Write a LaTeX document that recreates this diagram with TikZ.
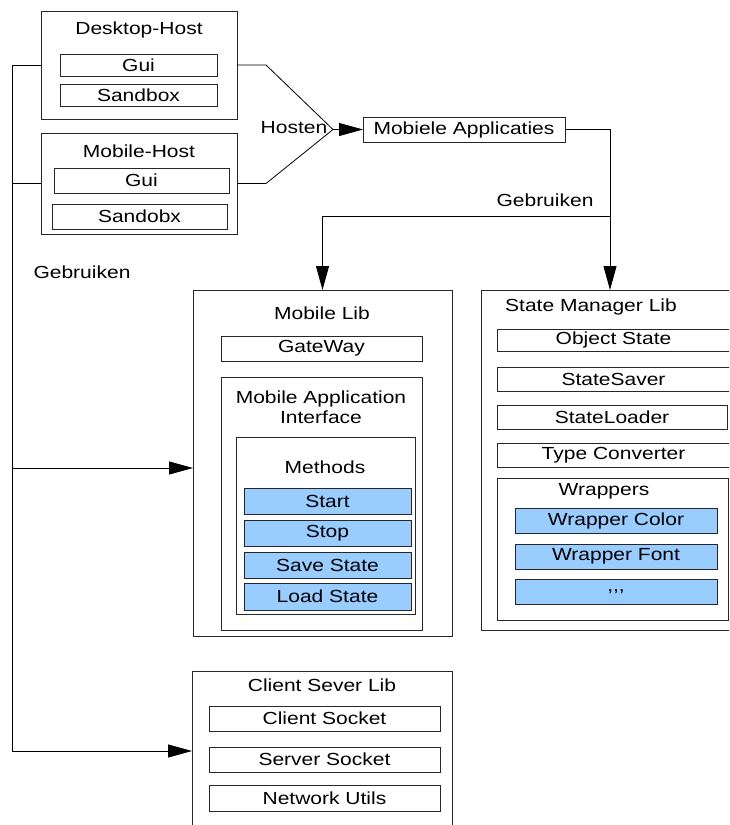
\documentclass[tikz,border=0pt]{standalone}
\usepackage{fontspec}
\setmainfont{Liberation Sans}[FakeStretch=1.2]
\usetikzlibrary{arrows.meta}
\definecolor{methodblue}{HTML}{99CCFF}
\tikzset{
  x=1pt, y=-1pt,
  blk/.style={draw=black!85, line width=0.8pt, fill=white, inner sep=0pt, outer sep=0pt,
    font=\fontsize{17.5}{19}\selectfont},
  hot/.style={blk, fill=methodblue},
  lbl/.style={inner sep=0pt, font=\fontsize{17.5}{20}\selectfont, align=center},
  wire/.style={draw=black, line width=0.8pt},
  arr/.style={wire, -{Triangle[length=24pt,width=13pt]}},
}
% box from (x1,y1) to (x2,y2), y measured downwards
\newcommand\rectnode[6][]{%
  \node[blk,#1,minimum width={(#5-#3)*1pt},minimum height={(#6-#4)*1pt}] (#2)
    at ({(#3+#5)/2},{(#4+#6)/2})}
\begin{document}
\begin{tikzpicture}
\useasboundingbox (0,0) rectangle (729,825);
\clip (0,0) rectangle (729,825);

% hosts
\rectnode{dh}{41}{11}{237}{119}{};
\node[lbl] (dhT) at (139,30) {Desktop-Host};
\rectnode{dhgui}{60}{54}{217}{76}{Gui};
\rectnode{dhsb}{60}{84}{217}{106}{Sandbox};

\rectnode{mh}{41}{133}{237}{234}{};
\node[lbl] (mhT) at (139,151) {Mobile-Host};
\rectnode{mhgui}{54}{168}{229}{193}{Gui};
\rectnode{mhsb}{52}{204}{227}{229}{Sandobx};

% applications
\rectnode{mapp}{363}{117}{565}{142}{Mobiele Applicaties};

% mobile lib
\rectnode{ml}{193}{290}{452}{636}{};
\node[lbl] (mlT) at (322,313) {Mobile Lib};
\rectnode{gw}{221}{336}{422}{361}{GateWay};
\rectnode{mai}{221}{377}{422}{630}{};
\node[lbl] (maiT) at (321,407) {Mobile Application\\Interface};
\rectnode{meth}{236}{437}{415}{614}{};
\node[lbl] (methT) at (325,467) {Methods};
\rectnode[hot]{mstart}{244}{488}{411}{514}{Start};
\rectnode[hot]{mstop}{244}{520}{411}{546}{Stop};
\rectnode[hot]{msave}{244}{552}{411}{578}{Save State};
\rectnode[hot]{mload}{244}{583}{411}{610}{Load State};

% state manager lib
\rectnode{sml}{481}{290}{745}{630}{};
\node[lbl] (smlT) at (591,307) {State Manager Lib};
\rectnode{os}{497}{329}{730}{351}{Object State};
\rectnode{ss}{497}{367}{730}{391}{StateSaver};
\rectnode{sl}{497}{405}{727}{429}{StateLoader};
\rectnode{tc}{497}{443}{730}{467}{Type Converter};
\rectnode{wr}{497}{478}{728}{620}{};
\node[lbl] (wrT) at (604,491) {Wrappers};
\rectnode[hot]{wc}{515}{508}{717}{533}{Wrapper Color};
\rectnode[hot]{wf}{515}{544}{717}{569}{Wrapper Font};
\rectnode[hot]{wd}{515}{579}{717}{604}{\raisebox{-3pt}{{,}{,}{,}}};

% client server lib
\rectnode{csl}{192}{671}{452}{831}{};
\node[lbl] (cslT) at (322,685) {Client Sever Lib};
\rectnode{cs}{209}{706}{440}{731}{Client Socket};
\rectnode{svs}{209}{747}{440}{772}{Server Socket};
\rectnode{nu}{209}{785}{440}{811}{Network Utils};

% hosting connectors
\coordinate (hub) at (333,129.5);
\draw[wire] (dh.east) -- (266,65) -- (hub);
\draw[wire] (mh.east) -- (266,183.5) -- (hub);
\draw[arr] (hub) -- (mapp.west);
\node[lbl] (hosten) at (294,128) {Hosten};

% usage connectors from the applications
\coordinate (jr) at (610,129.5);
\coordinate (jb) at (610,216);
\draw[arr] (mapp.east) -- (jr) -- (sml.north -| jr);
\draw[arr] (jb) -| (ml.north);
\node[lbl] (geb1) at (545,200) {Gebruiken};

% usage connectors from the hosts
\coordinate (bus) at (12,0);
\draw[wire] (dh.west) -- (dh.west -| bus) -- (csl.west -| bus);
\draw[wire] (mh.west) -- (mh.west -| bus);
\draw[arr] (bus |- 0,468) -- (ml.west |- 0,468);
\draw[arr] (csl.west -| bus) -- (csl.west);
\node[lbl] (geb2) at (82,272) {Gebruiken};
\end{tikzpicture}
\end{document}
